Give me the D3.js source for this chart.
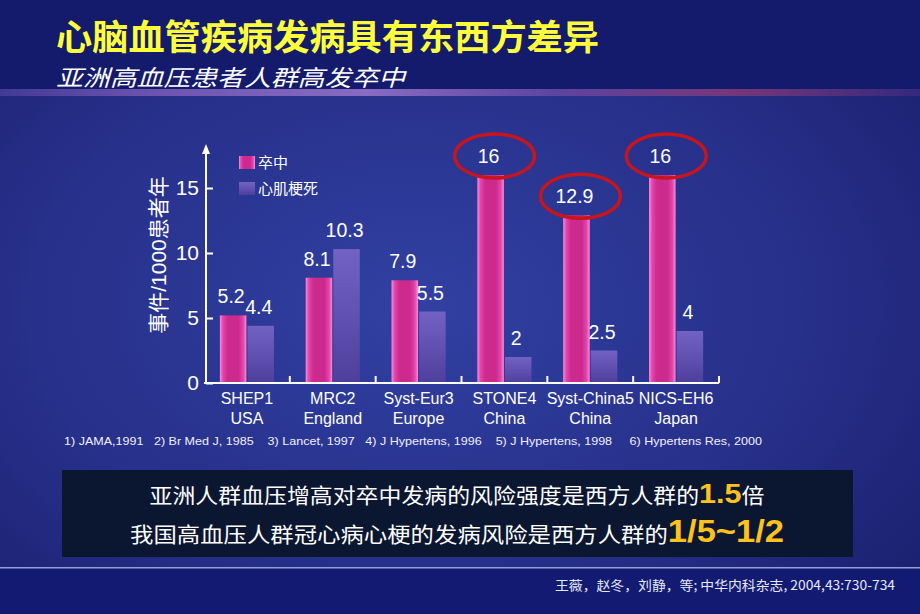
<!DOCTYPE html>
<html><head><meta charset="utf-8">
<script src="https://cdn.jsdelivr.net/npm/d3@7"></script>
<style>html,body{margin:0;padding:0;background:#1a2070;}svg{display:block;}</style>
</head><body>
<svg id="chart" width="920" height="614"></svg>
<script>
// ---------- data ----------
const categories = ["SHEP1","MRC2","Syst-Eur3","STONE4","Syst-China5","NICS-EH6"];
const regions    = ["USA","England","Europe","China","China","Japan"];
const seriesNames = ["卒中","心肌梗死"];
const strokeValues = [5.2, 8.1, 7.9, 16, 12.9, 16];
const miValues     = [4.4, 10.3, 5.5, 2, 2.5, 4];
const yTickValues  = [0, 5, 10, 15];
const circled      = ["STONE4","Syst-China5","NICS-EH6"];
const title    = "心脑血管疾病发病具有东西方差异";
const subtitle = "亚洲高血压患者人群高发卒中";
const yTitle   = "事件/1000患者年";
const refs = "1) JAMA,1991   2) Br Med J, 1985    3) Lancet, 1997   4) J Hypertens, 1996    5) J Hypertens, 1998     6) Hypertens Res, 2000";
const citation = "王薇，赵冬，刘静，等; 中华内科杂志, 2004,43:730-734";
const line1 = ["亚洲人群血压增高对卒中发病的风险强度是西方人群的", "1.5", "倍"];
const line2 = ["我国高血压人群冠心病心梗的发病风险是西方人群的", "1/5~1/2", ""];

const FONT = "'Liberation Sans', Arial, 'Noto Sans CJK SC', sans-serif";
const CJK = "'Noto Sans CJK SC', 'Liberation Sans', sans-serif";

const svg = d3.select("#chart");
const W = 920, H = 614;
const defs = svg.append("defs");

// background gradients
const bg = defs.append("radialGradient").attr("id","bg").attr("cx","0.45").attr("cy","0.5").attr("r","0.7");
bg.append("stop").attr("offset","0%").attr("stop-color","#3140a2");
bg.append("stop").attr("offset","60%").attr("stop-color","#27308a");
bg.append("stop").attr("offset","100%").attr("stop-color","#1b2170");

const glow = defs.append("linearGradient").attr("id","glow");
[["0%","#4a3f9a"],["15%","#7a5bb8"],["40%","#a07ad0"],["60%","#6a4aa8"],["80%","#8a3a78"],["100%","#3a2a80"]]
  .forEach(([o,c])=>glow.append("stop").attr("offset",o).attr("stop-color",c));

const pinkG = defs.append("linearGradient").attr("id","pink");
[["0%","#ff8ad8"],["12%","#e245ac"],["30%","#cc2a8c"],["70%","#cc2a8c"],["88%","#e245ac"],["100%","#ff8ad8"]]
  .forEach(([o,c])=>pinkG.append("stop").attr("offset",o).attr("stop-color",c));
const purpG = defs.append("linearGradient").attr("id","purp").attr("x1",0).attr("y1",0).attr("x2",0).attr("y2",1);
[["0%","#7262c4"],["100%","#4f3f9c"]].forEach(([o,c])=>purpG.append("stop").attr("offset",o).attr("stop-color",c));

defs.append("marker").attr("id","arrow").attr("viewBox","0 0 10 10").attr("refX",5).attr("refY",5)
  .attr("markerWidth",5).attr("markerHeight",6).attr("orient","auto")
  .append("path").attr("d","M0,1 L10,5 L0,9 Z").attr("fill","#fff");

svg.append("rect").attr("width",W).attr("height",H).attr("fill","url(#bg)");
// top band
svg.append("rect").attr("width",W).attr("height",89).attr("fill","#141a6c");
svg.append("rect").attr("y",89).attr("width",W).attr("height",7).attr("fill","url(#glow)").attr("opacity",0.8);
// bottom band
svg.append("rect").attr("y",568).attr("width",W).attr("height",H-568).attr("fill","#121a72");
svg.append("rect").attr("y",567).attr("width",W).attr("height",1.5).attr("fill","#8f9fd8");

// titles
svg.append("text").attr("x",56).attr("y",50).text(title)
  .attr("font-family",CJK).attr("font-weight",700).attr("font-size",35).attr("fill","#ffff3a")
  .attr("textLength",543).attr("lengthAdjust","spacingAndGlyphs");
svg.append("text").attr("x",56).attr("y",86).text(subtitle)
  .attr("font-family",CJK).attr("font-style","italic").attr("font-size",22.5).attr("fill","#ffffff")
  .attr("textLength",349).attr("lengthAdjust","spacingAndGlyphs");

// ---------- chart ----------
const x0 = d3.scaleBand().domain(categories).range([204,719]).paddingInner(0.37).paddingOuter(0.185);
const x1 = d3.scaleBand().domain(seriesNames).range([0,x0.bandwidth()]).paddingInner(0.04);
const y = d3.scaleLinear().domain([0,16]).range([383,175]);

const rows = categories.map((c,i)=>({cat:c, region:regions[i], vals:[strokeValues[i], miValues[i]]}));
const fills = ["url(#pink)","url(#purp)"];

const g = svg.append("g");
const groups = g.selectAll("g.grp").data(rows).join("g").attr("class","grp")
  .attr("transform",d=>`translate(${x0(d.cat)},0)`);

groups.selectAll("rect").data(d=>d.vals.map((v,k)=>({v,k}))).join("rect")
  .attr("x",d=>x1(seriesNames[d.k])).attr("width",x1.bandwidth())
  .attr("y",d=>y(d.v)).attr("height",d=>y(0)-y(d.v))
  .attr("fill",d=>fills[d.k]);

groups.selectAll("text.val").data(d=>d.vals.map((v,k)=>({v,k}))).join("text").attr("class","val")
  .attr("x",d=>x1(seriesNames[d.k])+x1.bandwidth()/2-2)
  .attr("y",d=>y(d.v)-12)
  .attr("text-anchor","middle").attr("font-family",FONT).attr("font-size",19.5).attr("fill","#fff")
  .text(d=>d.v);

// ellipses around circled stroke values
groups.filter(d=>circled.includes(d.cat)).append("ellipse")
  .attr("cx",x1(seriesNames[0])+x1.bandwidth()/2+4)
  .attr("cy",d=>y(d.vals[0])-19)
  .attr("rx",40).attr("ry",22)
  .attr("fill","none").attr("stroke","#c8141c").attr("stroke-width",3.5);

// x axis
const ax = svg.append("g");
ax.append("line").attr("x1",204).attr("x2",x0.range()[1]).attr("y1",y(0)).attr("y2",y(0))
  .attr("stroke","#fff").attr("stroke-width",2);
ax.selectAll("line.tk").data(categories).join("line").attr("class","tk")
  .attr("x1",d=>x0(d)+x0.bandwidth()+x0.step()*x0.paddingInner()/2)
  .attr("x2",d=>x0(d)+x0.bandwidth()+x0.step()*x0.paddingInner()/2)
  .attr("y1",y(0)).attr("y2",y(0)-7).attr("stroke","#fff").attr("stroke-width",2);
const xl = ax.selectAll("text.xl").data(rows).join("text").attr("class","xl")
  .attr("x",d=>x0(d.cat)+x0.bandwidth()/2).attr("y",y(0)+21)
  .attr("text-anchor","middle").attr("font-family",FONT).attr("font-size",16).attr("fill","#fff");
xl.append("tspan").text(d=>d.cat);
xl.append("tspan").attr("x",d=>x0(d.cat)+x0.bandwidth()/2).attr("dy",20).text(d=>d.region);

// y axis
const yAxis = d3.axisLeft(y).tickValues(yTickValues).tickSizeInner(-7).tickSizeOuter(0).tickPadding(7);
const ya = svg.append("g").attr("transform","translate(206,0)").call(yAxis);
ya.select(".domain").remove();
ya.selectAll(".tick line").attr("stroke","#fff").attr("stroke-width",2);
ya.selectAll(".tick text").attr("font-family",FONT).attr("font-size",21).attr("fill","#fff");
ya.append("line").attr("x1",0).attr("x2",0).attr("y1",y(0)).attr("y2",y.range()[1]-26)
  .attr("stroke","#fff").attr("stroke-width",2).attr("marker-end","url(#arrow)");

svg.append("text").attr("transform","translate(166,255) rotate(-90)").attr("text-anchor","middle")
  .attr("font-family",FONT).attr("font-size",21).attr("fill","#fff").text(yTitle);

// legend
const lg = svg.append("g").attr("transform","translate(239,156)");
seriesNames.forEach((s,k)=>{
  lg.append("rect").attr("x",0).attr("y",k*26).attr("width",16).attr("height",13).attr("fill",fills[k]);
  lg.append("text").attr("x",19).attr("y",k*26+12).attr("font-family",CJK).attr("font-size",15)
    .attr("fill","#fff").text(s);
});

// references
svg.append("text").attr("x",64).attr("y",445).attr("font-family",FONT).attr("font-size",11.5)
  .attr("fill","#f0f0ff").style("white-space","pre").attr("textLength",698).attr("lengthAdjust","spacingAndGlyphs")
  .text(refs);

// text box
svg.append("rect").attr("x",62).attr("y",470).attr("width",791).attr("height",87).attr("fill","#0b1631");
function boxLine(parts, yb, big, len){
  const t = svg.append("text").attr("x",457).attr("y",yb).attr("text-anchor","middle")
    .attr("font-family",CJK).attr("font-size",21).attr("fill","#fff")
    .attr("textLength",len).attr("lengthAdjust","spacingAndGlyphs");
  t.append("tspan").text(parts[0]);
  t.append("tspan").attr("font-family",FONT).attr("font-weight",700).attr("font-size",big).attr("fill","#ffc21a").text(parts[1]);
  if(parts[2]) t.append("tspan").text(parts[2]);
}
boxLine(line1, 503, 28, 615);
boxLine(line2, 542, 31, 654);

// citation
svg.append("text").attr("x",895).attr("y",590).attr("text-anchor","end").attr("font-family",CJK)
  .attr("font-size",13).attr("fill","#e6e8f6").attr("textLength",340).attr("lengthAdjust","spacingAndGlyphs")
  .text(citation);
</script>
</body></html>
